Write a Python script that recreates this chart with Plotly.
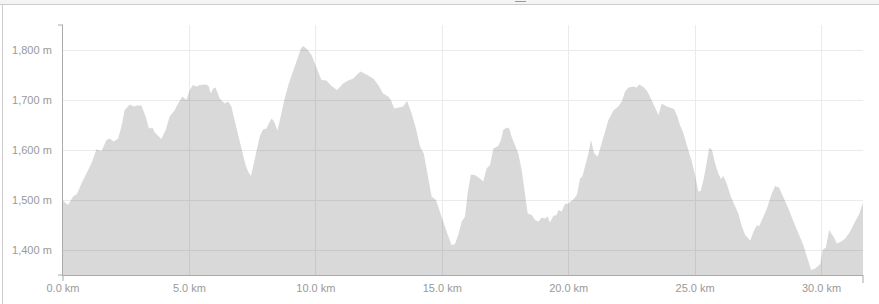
import plotly.graph_objects as go

dist_km = [0.0, 0.2, 0.4, 0.55, 0.73, 0.93, 1.12, 1.32, 1.52, 1.72, 1.85, 2.0, 2.18, 2.31, 2.44, 2.64, 2.8, 2.93, 3.1,
           3.27, 3.4, 3.54, 3.63, 3.89, 4.06, 4.22, 4.42, 4.55, 4.72, 4.88, 5.01, 5.14, 5.28, 5.41, 5.67, 5.77, 5.84,
           5.94, 6.03, 6.2, 6.4, 6.53, 6.66, 6.77, 6.89, 7.0, 7.12, 7.22, 7.32, 7.43, 7.52, 7.65, 7.78, 7.91, 8.05,
           8.14, 8.25, 8.35, 8.48, 8.61, 8.75, 8.93, 9.06, 9.24, 9.41, 9.5, 9.67, 9.83, 9.96, 10.09, 10.22, 10.42,
           10.62, 10.84, 11.08, 11.28, 11.48, 11.61, 11.77, 12.0, 12.27, 12.47, 12.66, 12.86, 12.97, 13.1, 13.32,
           13.45, 13.61, 13.79, 13.96, 14.12, 14.27, 14.4, 14.58, 14.75, 14.88, 15.04, 15.2, 15.37, 15.5, 15.63,
           15.77, 15.9, 16.0, 16.13, 16.29, 16.49, 16.62, 16.75, 16.89, 17.02, 17.21, 17.32, 17.41, 17.55, 17.65,
           17.74, 17.88, 18.01, 18.14, 18.25, 18.38, 18.54, 18.67, 18.8, 18.93, 19.06, 19.17, 19.26, 19.39, 19.52,
           19.59, 19.72, 19.85, 19.98, 20.18, 20.32, 20.45, 20.54, 20.65, 20.78, 20.88, 21.01, 21.15, 21.31, 21.44,
           21.57, 21.77, 21.96, 22.1, 22.23, 22.36, 22.56, 22.69, 22.79, 22.93, 23.09, 23.25, 23.42, 23.55, 23.68,
           23.88, 24.17, 24.3, 24.4, 24.53, 24.69, 24.87, 25.0, 25.13, 25.22, 25.33, 25.43, 25.56, 25.67, 25.79,
           25.92, 26.02, 26.12, 26.25, 26.41, 26.58, 26.71, 26.85, 26.98, 27.18, 27.31, 27.45, 27.53, 27.64, 27.84,
           28.01, 28.16, 28.32, 28.49, 28.69, 28.89, 29.09, 29.28, 29.42, 29.59, 29.75, 29.95, 30.04, 30.17, 30.3,
           30.47, 30.61, 30.78, 30.94, 31.13, 31.33, 31.49, 31.64]
elev_m = [1499, 1490, 1507, 1512, 1533, 1553, 1573, 1601, 1598, 1620, 1623, 1617, 1623, 1647, 1680, 1691, 1687, 1689, 1689,
          1667, 1643, 1645, 1635, 1622, 1640, 1667, 1680, 1693, 1707, 1700, 1720, 1730, 1727, 1730, 1731, 1727, 1713,
          1723, 1725, 1703, 1693, 1697, 1687, 1663, 1637, 1617, 1593, 1570, 1557, 1548, 1567, 1600, 1627, 1641, 1643,
          1653, 1663, 1657, 1639, 1667, 1700, 1733, 1753, 1780, 1803, 1808, 1801, 1790, 1773, 1757, 1740, 1739,
          1728, 1720, 1733, 1739, 1743, 1750, 1757, 1751, 1743, 1730, 1713, 1707, 1700, 1683, 1685,
          1687, 1698, 1673, 1643, 1607, 1593, 1557, 1507, 1500, 1480, 1457, 1433, 1410, 1412, 1430,
          1457, 1467, 1513, 1551, 1550, 1543, 1537, 1563, 1570, 1603, 1608, 1620, 1640, 1645, 1643,
          1627, 1610, 1593, 1560, 1520, 1473, 1470, 1460, 1457, 1465, 1463, 1467, 1455, 1468, 1470,
          1480, 1477, 1492, 1493, 1501, 1510, 1543, 1547, 1567, 1593, 1620, 1593, 1587, 1613, 1637,
          1660, 1679, 1687, 1697, 1717, 1725, 1727, 1725, 1731, 1727, 1719, 1703, 1683, 1670, 1693,
          1687, 1682, 1667, 1650, 1635, 1607, 1577, 1550, 1517, 1518, 1540, 1567, 1605, 1600, 1573,
          1553, 1542, 1548, 1533, 1507, 1487, 1473, 1447, 1430, 1419, 1437, 1450, 1447, 1460, 1483,
          1510, 1528, 1525, 1507, 1483, 1457, 1433, 1410, 1387, 1360, 1363, 1372, 1400, 1405, 1440,
          1427, 1413, 1417, 1423, 1437, 1457, 1472, 1495]

x_tick_vals = [0, 5, 10, 15, 20, 25, 30]
y_tick_vals = [1400, 1500, 1600, 1700, 1800]

W, H = 879, 304
ML, MR, MT, MB = 63, 16, 25, 29
PW, PH = W - ML - MR, H - MT - MB


def px(x):
    return (x - ML) / PW


def py(y):
    return (H - MB - y) / PH


fig = go.Figure()
fig.add_trace(go.Scatter(
    x=dist_km, y=elev_m, mode="lines", fill="tozeroy",
    line=dict(width=0, color="rgba(0,0,0,0)"),
    fillcolor="rgba(0,0,0,0.15)", hoverinfo="skip", showlegend=False,
))

axis_font = dict(family="Liberation Sans, Arial, sans-serif", size=11, color="#999999")
fig.update_layout(
    width=W, height=H,
    margin=dict(l=ML, r=MR, t=MT, b=MB, autoexpand=False),
    paper_bgcolor="white", plot_bgcolor="white",
    showlegend=False,
    xaxis=dict(
        range=[0, 31.64], tickvals=x_tick_vals,
        ticktext=[f"{v:.1f} km" for v in x_tick_vals],
        showgrid=True, gridcolor="#ebebeb", gridwidth=1,
        showline=True, linecolor="#aaaaaa", linewidth=1,
        zeroline=False, ticks="", tickfont=axis_font, ticklabelstandoff=3,
        automargin=False,
    ),
    yaxis=dict(
        range=[1350, 1850], tickvals=y_tick_vals,
        ticktext=[f"{v:,} m" for v in y_tick_vals],
        showgrid=True, gridcolor="#ebebeb", gridwidth=1,
        showline=True, linecolor="#aaaaaa", linewidth=1,
        zeroline=False, ticks="", tickfont=axis_font, ticklabelstandoff=8,
        automargin=False,
    ),
)

shapes = [
    # top band of the container
    dict(type="rect", xref="paper", yref="paper", x0=px(0), x1=px(W), y0=py(0), y1=py(4),
         fillcolor="#f4f4f4", line=dict(width=0), layer="above"),
    dict(type="line", xref="paper", yref="paper", x0=px(0), x1=px(W), y0=py(4.5), y1=py(4.5),
         line=dict(color="#cccccc", width=1)),
    dict(type="line", xref="paper", yref="paper", x0=px(2.5), x1=px(2.5), y0=py(4.5), y1=py(H),
         line=dict(color="#cccccc", width=1)),
    dict(type="line", xref="paper", yref="paper", x0=px(515), x1=px(526), y0=py(1.5), y1=py(1.5),
         line=dict(color="#999999", width=1)),
    # axis end ticks
    dict(type="line", xref="paper", yref="paper", x0=px(58), x1=0, y0=1, y1=1,
         line=dict(color="#aaaaaa", width=1)),
    dict(type="line", xref="paper", yref="paper", x0=px(58), x1=0, y0=0, y1=0,
         line=dict(color="#aaaaaa", width=1)),
    dict(type="line", xref="paper", yref="paper", x0=0, x1=0, y0=0, y1=py(H - MB + 6),
         line=dict(color="#aaaaaa", width=1)),
    dict(type="line", xref="paper", yref="paper", x0=1, x1=1, y0=0, y1=py(H - MB + 8),
         line=dict(color="#aaaaaa", width=1)),
]
fig.update_layout(shapes=shapes)

fig.write_html("out.html")
